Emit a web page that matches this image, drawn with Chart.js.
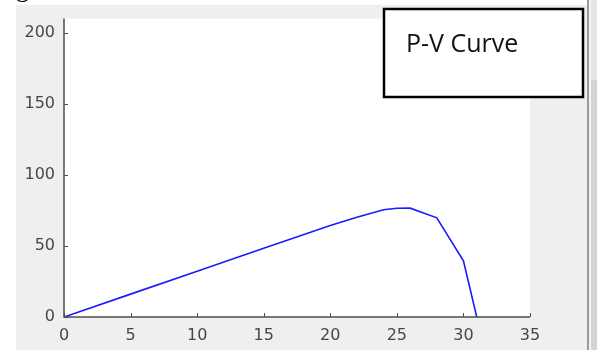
<!DOCTYPE html>
<html>
<head>
<meta charset="utf-8">
<script src="https://cdn.jsdelivr.net/npm/chart.js@4.4.1/dist/chart.umd.min.js"></script>
<style>
  html, body { margin: 0; padding: 0; background: #ffffff; }
  #wrap { position: relative; width: 597px; height: 350px; }
</style>
</head>
<body>
<div id="wrap"><canvas id="pv" width="597" height="350"></canvas></div>
<script>
// voltage (V) and power (W)
var voltage = [0, 5, 10, 15, 20, 22, 24, 25, 26, 28, 30, 31];
var power   = [0, 16.1, 32.2, 48.3, 64.4, 70.2, 75.5, 76.5, 76.6, 69.8, 39.5, 0];

var xTicks = [0, 5, 10, 15, 20, 25, 30, 35];
var yTicks = [0, 50, 100, 150, 200];

var curveTitle = "P-V Curve";

var points = [];
for (let i = 0; i < voltage.length; i++) {
    points.push({x: voltage[i], y: power[i]});
}

// grey figure panel, white axes area and the scrollbar edge on the right
var figureBack = {
    id: 'figureBack',
    beforeDraw(chart) {
        const ctx = chart.ctx;
        const a = chart.chartArea;
        ctx.save();
        ctx.fillStyle = '#ffffff';
        ctx.fillRect(0, 0, chart.width, chart.height);
        ctx.fillStyle = '#efefef';
        ctx.fillRect(16, 5, 572, chart.height - 5);
        ctx.fillStyle = '#ffffff';
        ctx.fillRect(a.left, a.top, a.right - a.left, a.bottom - a.top);
        // scrollbar strip
        ctx.fillStyle = '#9a9a9a';
        ctx.fillRect(587, 0, 2, chart.height);
        ctx.fillStyle = '#f4f4f4';
        ctx.fillRect(589, 0, 2, chart.height);
        ctx.fillStyle = '#e6e6e6';
        ctx.fillRect(591, 0, 6, 80);
        ctx.fillStyle = '#d4d4d4';
        ctx.fillRect(591, 80, 6, chart.height - 80);
        // tail of the caption line above the figure
        ctx.fillStyle = '#000000';
        ctx.font = '26px "Liberation Serif", serif';
        ctx.textBaseline = 'alphabetic';
        ctx.fillText('g', 16, -3);
        ctx.restore();
    }
};

// MATLAB style axes: left and bottom lines with inward ticks
var matAxes = {
    id: 'matAxes',
    afterDatasetsDraw(chart) {
        const ctx = chart.ctx;
        const a = chart.chartArea;
        const xs = chart.scales.x, ys = chart.scales.y;
        ctx.save();
        ctx.strokeStyle = '#4d4d4d';
        ctx.lineWidth = 1.5;
        ctx.beginPath();
        ctx.moveTo(a.left, a.top);
        ctx.lineTo(a.left, a.bottom);
        ctx.lineTo(a.right, a.bottom);
        ctx.stroke();
        ctx.lineWidth = 1;
        ctx.beginPath();
        xTicks.forEach(v => {
            const px = Math.round(xs.getPixelForValue(v)) + 0.5;
            ctx.moveTo(px, a.bottom);
            ctx.lineTo(px, a.bottom - 4);
        });
        yTicks.forEach(v => {
            const py = Math.round(ys.getPixelForValue(v)) + 0.5;
            ctx.moveTo(a.left, py);
            ctx.lineTo(a.left + 4, py);
        });
        ctx.stroke();
        ctx.restore();
    }
};

// text box in the top right corner
var titleBox = {
    id: 'titleBox',
    afterDraw(chart) {
        const ctx = chart.ctx;
        ctx.save();
        ctx.fillStyle = '#ffffff';
        ctx.fillRect(384, 9, 199, 88);
        ctx.strokeStyle = '#000000';
        ctx.lineWidth = 2.5;
        ctx.strokeRect(384, 9, 199, 88);
        ctx.fillStyle = '#111111';
        ctx.font = '25px "Open Sans", sans-serif';
        ctx.textBaseline = 'alphabetic';
        ctx.fillText(curveTitle, 406, 52);
        ctx.restore();
    }
};

var tickFont = {family: '"DejaVu Sans", sans-serif', size: 16};

new Chart(document.getElementById('pv'), {
    type: 'line',
    data: {
        datasets: [{
            data: points,
            borderColor: '#1a1aff',
            borderWidth: 1.6,
            pointRadius: 0,
            tension: 0,
            fill: false
        }]
    },
    options: {
        responsive: false,
        animation: false,
        layout: {padding: {left: 0, top: 15, right: 67, bottom: 0}},
        plugins: {legend: {display: false}, tooltip: {enabled: false}},
        scales: {
            x: {
                type: 'linear',
                min: 0,
                max: 35,
                afterBuildTicks: s => { s.ticks = xTicks.map(v => ({value: v})); },
                afterFit: s => { s.height = 33; },
                grid: {display: false, drawTicks: false},
                border: {display: false},
                ticks: {color: '#474747', font: tickFont, padding: 9, maxRotation: 0}
            },
            y: {
                type: 'linear',
                min: 0,
                max: 210,
                afterBuildTicks: s => { s.ticks = yTicks.map(v => ({value: v})); },
                afterFit: s => { s.width = 64; },
                grid: {display: false, drawTicks: false},
                border: {display: false},
                ticks: {color: '#474747', font: tickFont, padding: 9}
            }
        }
    },
    plugins: [figureBack, matAxes, titleBox]
});
</script>
</body>
</html>
